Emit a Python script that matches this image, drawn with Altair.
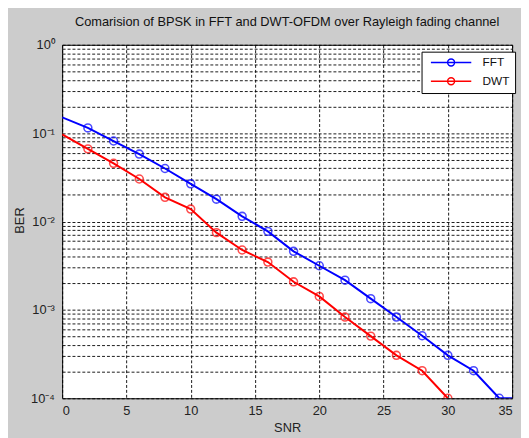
import altair as alt
import pandas as pd

# ---- data ----
fft_snr = [0, 2, 4, 6, 8, 10, 12, 14, 16, 18, 20, 22, 24, 26, 28, 30, 32, 34, 36]
fft_ber = [0.151, 0.1146, 0.0815, 0.058, 0.0398, 0.0267, 0.0179, 0.01145, 0.00774,
           0.0046, 0.00316, 0.00217, 0.00134, 0.00083, 0.00051, 0.000306, 0.000205,
           0.0001, 0.0001]
dwt_snr = [0, 2, 4, 6, 8, 10, 12, 14, 16, 18, 20, 22, 24, 26, 28, 30]
dwt_ber = [0.0968, 0.0664, 0.0456, 0.0303, 0.0188, 0.01384, 0.00749, 0.00476,
           0.00348, 0.00208, 0.00142, 0.00083, 0.000505, 0.000306, 0.000205, 0.0001]
series = ["FFT", "DWT"]
colors = ["#0000ff", "#ff0000"]
x_ticks = [0, 5, 10, 15, 20, 25, 30, 35]
y_tick_labels = ["10⁻⁴", "10⁻³", "10⁻²", "10⁻¹", "10⁰"]
y_ticks = [m * 10.0 ** e for e in range(-4, 0) for m in range(1, 10)] + [1.0]

title = "Comarision of BPSK in FFT and DWT-OFDM over Rayleigh fading channel"

df = pd.concat([
    pd.DataFrame({"SNR": fft_snr, "BER": fft_ber, "series": "FFT"}),
    pd.DataFrame({"SNR": dwt_snr, "BER": dwt_ber, "series": "DWT"}),
])

FONT = "Liberation Sans"
label_js = "[" + ",".join("'" + s + "'" for s in y_tick_labels) + "]"
exp_js = "round(log(datum.value)/LN10)"
y_label_expr = (f"abs(log(datum.value)/LN10 - {exp_js}) < 1e-6 ? "
                f"{label_js}[{exp_js}+4] : ''")

x_enc = alt.X("SNR:Q", scale=alt.Scale(domain=[0, 35], nice=False, zero=False),
              axis=alt.Axis(values=x_ticks, title="SNR", grid=True, tickSize=0,
                            labelPadding=6, titlePadding=5, domain=False))
y_enc = alt.Y("BER:Q", scale=alt.Scale(type="log", domain=[1e-4, 1], nice=False),
              axis=alt.Axis(values=y_ticks, title="BER", grid=True, tickSize=0,
                            labelExpr=y_label_expr, labelOverlap=False,
                            labelPadding=8, titleX=-43, titleY=178,
                            titleAngle=270, titleAlign="center",
                            titleBaseline="middle", domain=False))
color_scale = alt.Scale(domain=series, range=colors)

legend_symbol = ("M-4.1,0L-0.7,0M0.7,0L4.1,0"
                 "M0.7,0A0.7,0.7,0,1,1,-0.7,0A0.7,0.7,0,1,1,0.7,0M-0.7,0L0.7,0")

lines = alt.Chart(df).mark_line(strokeWidth=2, clip=True).encode(
    x=x_enc, y=y_enc,
    color=alt.Color("series:N", scale=color_scale, sort=series,
                    legend=alt.Legend(title=None, orient="none", legendX=365, legendY=7,
                                      symbolType=legend_symbol, symbolSize=100,
                                      symbolStrokeWidth=1.5, symbolOffset=19,
                                      labelOffset=26, padding=5, rowPadding=5,
                                      fillColor="white", strokeColor="black",
                                      labelFontSize=12, labelFont=FONT,
                                      labelColor="#111")),
    detail="series:N",
)

points = alt.Chart(df).transform_filter(
    (alt.datum.SNR > 0) & (alt.datum.SNR <= 35)
).mark_point(shape="circle", filled=False, size=64, strokeWidth=1.6, clip=True).encode(
    x="SNR:Q", y="BER:Q",
    color=alt.Color("series:N", scale=color_scale, legend=None),
)

chart = alt.layer(lines, points).properties(
    width=457, height=359,
    title=alt.TitleParams(title, fontSize=13, font=FONT, fontWeight="normal",
                          color="#111", anchor="middle", offset=10),
    background="#cccccc",
    autosize=alt.AutoSizeParams(type="none"),
    padding={"left": 55, "top": 34, "right": 9, "bottom": 37},
).configure_view(
    stroke="black", strokeWidth=1, fill="white"
).configure_axis(
    labelFont=FONT, titleFont=FONT, labelFontSize=13, titleFontSize=13,
    labelColor="#222", titleColor="#222", titleFontWeight="normal",
    gridColor="black", gridDash=[3, 2], gridWidth=1, gridOpacity=0.9,
)

chart.save("out.html", embed_options={"renderer": "svg", "actions": False})
